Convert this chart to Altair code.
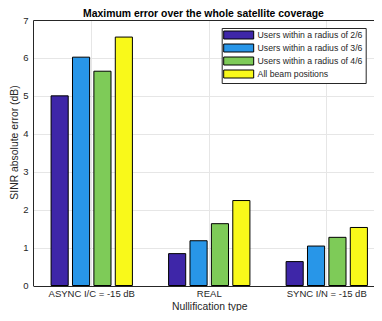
import altair as alt
import pandas as pd

categories = ["ASYNC I/C = -15 dB", "REAL", "SYNC I/N = -15 dB"]
series = ["Users within a radius of 2/6", "Users within a radius of 3/6",
          "Users within a radius of 4/6", "All beam positions"]
values = {
    "Users within a radius of 2/6": [5.00, 0.84, 0.63],
    "Users within a radius of 3/6": [6.02, 1.18, 1.04],
    "Users within a radius of 4/6": [5.65, 1.63, 1.27],
    "All beam positions": [6.55, 2.24, 1.53],
}
colors = ["#3E26A8", "#2896E8", "#7ECB58", "#F9F91A"]
y_ticks = [0, 1, 2, 3, 4, 5, 6, 7]

rows = []
for s in series:
    for c, v in zip(categories, values[s]):
        rows.append({"type": c, "series": s, "value": v})
df = pd.DataFrame(rows)

FONT = "Liberation Sans"
W = 341
H = 265.5
X_RANGE = [0, 352.5]
DARK = "#262626"
GRID = "#e6e6e6"
NBSP = "\u00a0" * 4

chart = alt.Chart(df).mark_bar(stroke="black", strokeWidth=1).encode(
    x=alt.X("type:N", sort=categories,
            scale=alt.Scale(paddingInner=0, paddingOuter=0, range=X_RANGE),
            axis=alt.Axis(title="Nullification type", labelAngle=0, ticks=False,
                          domain=False, grid=True, gridColor=GRID,
                          labelFontSize=9.5, labelColor=DARK, labelPadding=3,
                          titleFontSize=10.4, titleFontWeight="normal",
                          titleColor=DARK, titlePadding=3)),
    xOffset=alt.XOffset("series:N", sort=series,
                        scale=alt.Scale(paddingInner=0.2, paddingOuter=0.845)),
    y=alt.Y("value:Q",
            scale=alt.Scale(domain=[0, 7], nice=False),
            axis=alt.Axis(title="SINR absolute error (dB)", values=y_ticks,
                          ticks=False, domainColor=DARK, grid=True,
                          gridColor=alt.condition("datum.value == 0 || datum.value == 7",
                                                  alt.value(DARK), alt.value(GRID)),
                          labelFontSize=9.5, labelColor=DARK, labelPadding=5,
                          titleFontSize=10.4, titleFontWeight="normal",
                          titleColor=DARK, titleX=-14, titleY=122,
                          titleAngle=270, titleAlign="center",
                          titleBaseline="bottom")),
    color=alt.Color("series:N", sort=series,
                    scale=alt.Scale(domain=series, range=colors),
                    legend=alt.Legend(
                        title=None, orient="none", legendX=188.7, legendY=8,
                        fillColor="white", strokeColor=DARK, padding=2.5,
                        symbolType="M-1.25,-1H6.25V1H-1.25Z", symbolSize=64,
                        symbolStrokeColor="black", symbolStrokeWidth=1,
                        symbolOpacity=1,
                        labelFontSize=8.7, labelColor=DARK, labelFont=FONT,
                        labelOffset=24.4, rowPadding=0, labelLimit=300,
                        labelExpr="datum.label + '" + NBSP + "'")),
).properties(
    width=W,
    height=H,
    title=alt.TitleParams("Maximum error over the whole satellite coverage",
                          fontSize=10.4, fontWeight="bold", color="black",
                          font=FONT, offset=-4.5),
).configure_view(
    stroke=None
).configure_axis(
    labelFont=FONT, titleFont=FONT
).properties(
    autosize=alt.AutoSizeParams(type="none"),
    padding={"left": 25, "top": 12, "right": 0, "bottom": 25.5},
)

chart.save("out.html", embed_options={"renderer": "svg", "actions": False})
